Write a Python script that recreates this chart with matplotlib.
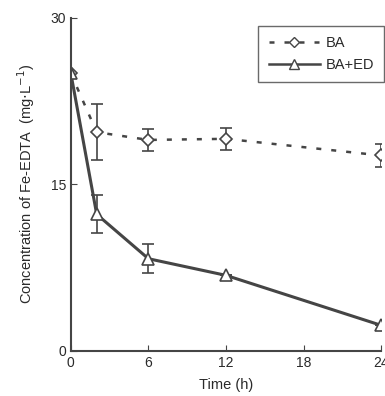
import numpy as np
import matplotlib.pyplot as plt
from matplotlib.lines import Line2D

plt.rcParams['font.family'] = ['Liberation Sans', 'DejaVu Sans']

time_h = [0, 2, 6, 12, 24]
ba = [25.0, 19.7, 19.0, 19.1, 17.6]
ba_err = [0.0, 2.5, 1.0, 1.0, 1.0]
ba_ed = [25.0, 12.3, 8.3, 6.8, 2.3]
ba_ed_err = [0.0, 1.7, 1.3, 0.0, 0.0]

ink = '#454545'
txt = '#2a2a2a'

fig = plt.figure(figsize=(3.85, 3.96), dpi=100)
ax = fig.add_axes([0.184, 0.114, 0.806, 0.841])

ax.errorbar(time_h, ba, yerr=ba_err, color=ink, linestyle=(0, (2, 4)), linewidth=1.8,
            marker='D', markersize=6, markerfacecolor='white', markeredgecolor=ink,
            markeredgewidth=1.2, capsize=4, elinewidth=1.2, ecolor=ink)
ax.errorbar(time_h, ba_ed, yerr=ba_ed_err, color=ink, linestyle='-', linewidth=2.2,
            marker='^', markersize=8, markerfacecolor='white', markeredgecolor=ink,
            markeredgewidth=1.2, capsize=4, elinewidth=1.2, ecolor=ink)

ax.set_xlim(0, 24)
ax.set_ylim(0, 30)
ax.set_xticks([0, 6, 12, 18, 24])
ax.set_yticks([0, 15, 30])
ax.spines['top'].set_visible(False)
ax.spines['right'].set_visible(False)
for s in ['left', 'bottom']:
    ax.spines[s].set_color(ink)
    ax.spines[s].set_linewidth(1.5)
ax.tick_params(direction='in', length=4, color=ink, labelcolor=txt, labelsize=10)
ax.set_xlabel('Time (h)', fontsize=10.5, color=txt, labelpad=6)
ax.set_ylabel('Concentration of Fe-EDTA  (mg$\\cdot$L$^{-1}$)', fontsize=10.5, color=txt,
              labelpad=10)

handles = [
    Line2D([], [], color=ink, linestyle=(0, (2, 4)), linewidth=1.8, marker='D', markersize=5,
           markerfacecolor='white', markeredgecolor=ink),
    Line2D([], [], color=ink, linestyle='-', linewidth=1.8, marker='^', markersize=7,
           markerfacecolor='white', markeredgecolor=ink),
]
leg = ax.legend(handles, ['BA', 'BA+ED'], loc='upper right', bbox_to_anchor=(1.01, 0.975),
                borderaxespad=0, frameon=True, fancybox=False, edgecolor=ink, fontsize=10.5,
                handlelength=3.5, borderpad=0.7, handletextpad=0.4)
leg.get_frame().set_linewidth(1.0)
for t in leg.get_texts():
    t.set_color(txt)

fig.savefig('out.png', dpi=100)
